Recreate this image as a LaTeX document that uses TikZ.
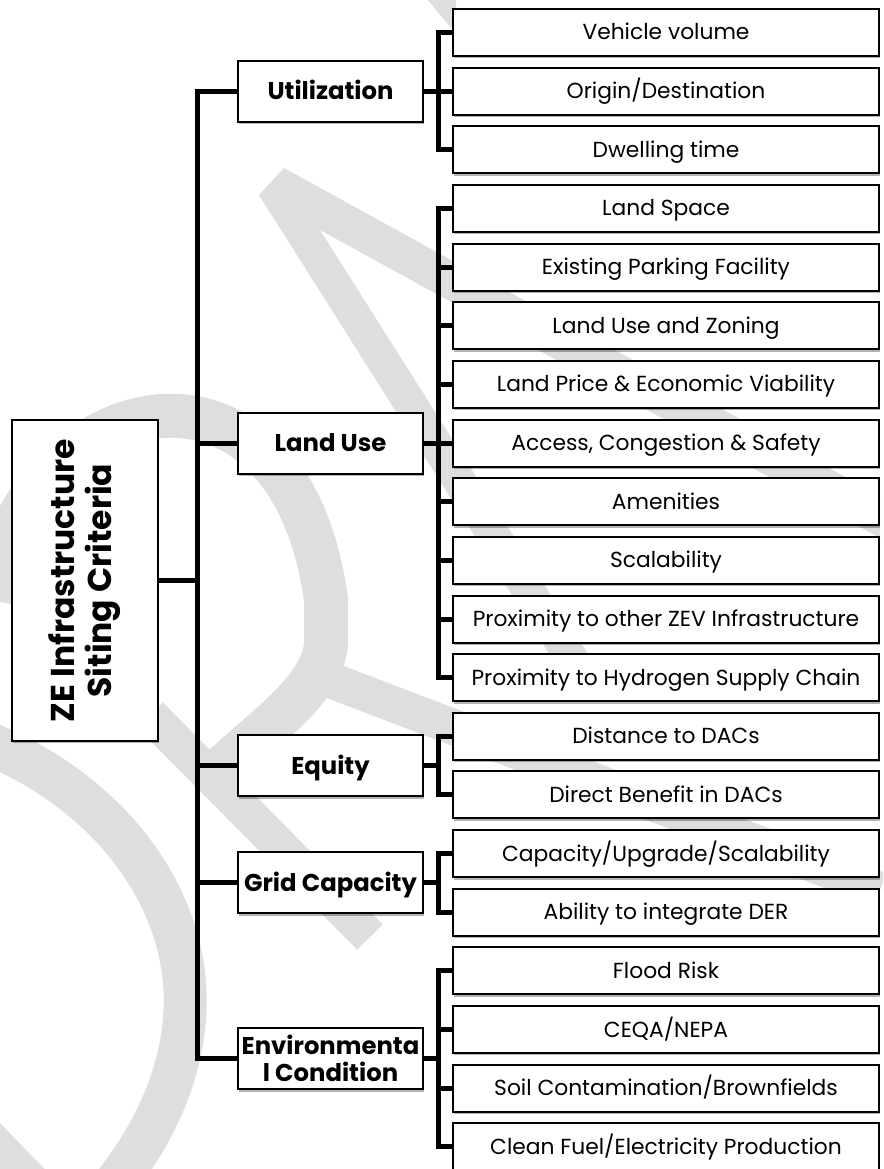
\documentclass[tikz,border=0pt]{standalone}
\usepackage{fontspec}
\setmainfont{Poppins}
\usetikzlibrary{positioning, calc, shadows}
\definecolor{wmgray}{RGB}{222,222,222}

\begin{document}
\begin{tikzpicture}[
    x=1pt, y=-1pt,
    node distance=9.65pt,
    link/.style={line width=5pt, line join=miter},
    basebox/.style={draw, line width=2pt, fill=white, inner sep=0pt,
        drop shadow={shadow xshift=0.6pt, shadow yshift=-2.4pt, fill=black, opacity=0.3}},
    leaf/.style={basebox, minimum width=426pt, minimum height=47pt,
        font=\fontsize{21.8}{25}\selectfont, text height=15pt, text depth=0pt},
    crit/.style={basebox, minimum width=185pt, minimum height=61pt,
        font=\fontsize{24.3}{27}\selectfont\bfseries, text height=17.5pt, text depth=0pt},
    rootbox/.style={basebox, minimum width=146pt, minimum height=321pt,
        font=\fontsize{33}{34}\selectfont\bfseries},
    wmband/.style={draw=wmgray, line width=44pt},
]
    \clip (0,0) rectangle (883,1169);

    % watermark
    \fill[wmgray] (284,168) -- (880,496) -- (880,538) -- (320,230) -- (592,660) -- (553,660) -- (259,195) -- cycle;
    \fill[wmgray] (428,0) -- (456,0) -- (456,34) -- cycle;
    \draw[wmband] (-10,600) .. controls (30,380) and (290,330) .. (326,600) -- (326,640)
        .. controls (326,690) and (260,730) .. (215,775);
    \draw[wmband, line width=36pt] (150,715) -- (370,937);
    \draw[wmband, line width=36pt] (330,680) -- (880,890);
    \draw[wmband, line width=43pt] (-20,740) .. controls (110,790) and (190,900) .. (185,1010)
        .. controls (182,1080) and (150,1140) .. (110,1190);
    \fill[wmgray] (0,1123) -- (60,1185) -- (0,1185) -- cycle;

    % criteria
    \node[leaf] (vol) at (666,32.5) {Vehicle volume};
    \node[leaf, below=of vol] (od) {Origin/Destination};
    \node[leaf, below=of od] (dwell) {Dwelling time};
    \node[leaf, below=of dwell] (space) {Land Space};
    \node[leaf, below=of space] (park) {Existing Parking Facility};
    \node[leaf, below=of park] (zoning) {Land Use and Zoning};
    \node[leaf, below=of zoning] (price) {Land Price \& Economic Viability};
    \node[leaf, below=of price] (access) {Access, Congestion \& Safety};
    \node[leaf, below=of access] (amen) {Amenities};
    \node[leaf, below=of amen] (scale) {Scalability};
    \node[leaf, below=of scale] (zev) {Proximity to other ZEV Infrastructure};
    \node[leaf, below=of zev] (hydro) {Proximity to Hydrogen Supply Chain};
    \node[leaf, below=of hydro] (dist) {Distance to DACs};
    \node[leaf, below=of dist] (benefit) {Direct Benefit in DACs};
    \node[leaf, below=of benefit] (upgrade) {Capacity/Upgrade/Scalability};
    \node[leaf, below=of upgrade] (der) {Ability to integrate DER};
    \node[leaf, below=of der] (flood) {Flood Risk};
    \node[leaf, below=of flood] (ceqa) {CEQA/NEPA};
    \node[leaf, below=of ceqa] (soil) {Soil Contamination/Brownfields};
    \node[leaf, below=of soil] (clean) {Clean Fuel/Electricity Production};

    \coordinate (eqmid) at ($(dist.west)!0.5!(benefit.west)$);
    \coordinate (gridmid) at ($(upgrade.west)!0.5!(der.west)$);
    \coordinate (envmid) at ($(ceqa.west)!0.5!(soil.west)$);

    % categories
    \node[crit, left=28pt of od] (util) {Utilization};
    \node[crit, left=28pt of access] (landuse) {Land Use};
    \node[crit, left=28pt of eqmid] (equity) {Equity};
    \node[crit, left=28pt of gridmid] (grid) {Grid Capacity};
    \node[crit, left=28pt of envmid, align=center, text height=44.5pt] (env) {Environmenta\\l Condition};

    \node[rootbox] (root) at (85,580.5)
        {\rotatebox{90}{\begin{tabular}{@{}c@{}}ZE Infrastructure\\Siting Criteria\end{tabular}}};

    \coordinate (trunk) at ([xshift=-40pt]util.west);

    % tree lines
    \draw[link] (root.east) -- (root.east -| trunk);
    \draw[link] (util.west) -- (util.west -| trunk) |- (env.west);
    \draw[link] (landuse.west) -- (landuse.west -| trunk);
    \draw[link] (equity.west) -- (equity.west -| trunk);
    \draw[link] (grid.west) -- (grid.west -| trunk);

    \draw[link] (vol.west) -- ++(-14,0) |- (dwell.west);
    \draw[link] (util.east) -- (od.west);

    \draw[link] (space.west) -- ++(-14,0) |- (hydro.west);
    \draw[link] (landuse.east) -- (access.west);
    \draw[link] (park.west) -- ++(-14,0);
    \draw[link] (zoning.west) -- ++(-14,0);
    \draw[link] (price.west) -- ++(-14,0);
    \draw[link] (amen.west) -- ++(-14,0);
    \draw[link] (scale.west) -- ++(-14,0);
    \draw[link] (zev.west) -- ++(-14,0);

    \draw[link] (dist.west) -- ++(-14,0) |- (benefit.west);
    \draw[link] (equity.east) -- ++(14,0);

    \draw[link] (upgrade.west) -- ++(-14,0) |- (der.west);
    \draw[link] (grid.east) -- ++(14,0);

    \draw[link] (flood.west) -- ++(-14,0) |- (clean.west);
    \draw[link] (env.east) -- ++(14,0);
    \draw[link] (ceqa.west) -- ++(-14,0);
    \draw[link] (soil.west) -- ++(-14,0);
\end{tikzpicture}
\end{document}
